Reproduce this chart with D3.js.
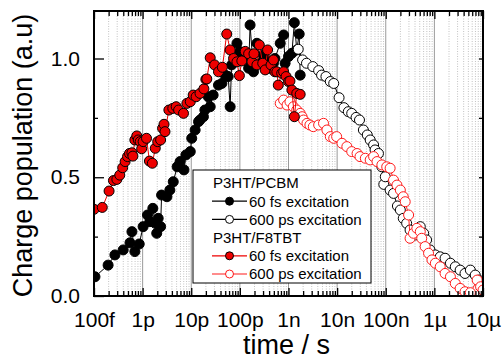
<!DOCTYPE html>
<html>
<head>
<meta charset="utf-8">
<script src="https://cdn.jsdelivr.net/npm/d3@7"></script>
<style>
  body { margin: 0; background: #fff; }
  svg { font-family: "Liberation Sans", Arial, sans-serif; }
</style>
</head>
<body>
<svg id="chart" width="503" height="360"></svg>
<script>
// x ticks (seconds) and their labels
const xTickValues = [1e-13, 1e-12, 1e-11, 1e-10, 1e-9, 1e-8, 1e-7, 1e-6, 1e-5]
const xTickLabels = ["100f", "1p", "10p", "100p", "1n", "10n", "100n", "1µ", "10µ"]
const yTickValues = [0, 0.5, 1.0]
const yMinorValues = [0.25, 0.75]

// time is stored as log10(t / s)
// P3HT/PCBM, 60 fs excitation
const pcbmFsLogT = [-12.98, -12.71, -12.57, -12.40, -12.26, -12.22, -12.16, -12.07, -11.99, -11.90,
  -11.85, -11.79, -11.74, -11.71, -11.68, -11.63, -11.61, -11.50, -11.44, -11.37,
  -11.29, -11.23, -11.15, -11.11, -11.02, -10.99, -10.92, -10.85, -10.82, -10.75,
  -10.72, -10.65, -10.61, -10.55, -10.44, -10.37, -10.30, -10.24, -10.20, -10.17,
  -10.10, -10.06, -10.00, -9.93, -9.82, -9.79, -9.72, -9.65, -9.58, -9.52,
  -9.45, -9.38, -9.31, -9.28, -9.17, -9.10, -9.07, -9.00, -8.93, -8.88,
  -8.83, -8.78, -8.76]
const pcbmFsY = [0.081, 0.130, 0.173, 0.194, 0.224, 0.271, 0.187, 0.219, 0.292, 0.341,
  0.313, 0.369, 0.306, 0.264, 0.327, 0.292, 0.425, 0.418, 0.446, 0.481,
  0.544, 0.566, 0.531, 0.594, 0.608, 0.664, 0.699, 0.734, 0.741, 0.755,
  0.783, 0.839, 0.797, 0.846, 0.888, 0.895, 0.930, 0.924, 0.797, 0.973,
  0.994, 1.064, 1.029, 1.008, 0.959, 1.141, 0.944, 1.064, 0.980, 1.015,
  0.994, 0.959, 0.980, 1.000, 1.064, 1.099, 0.980, 1.008, 1.022, 1.151,
  1.036, 1.103, 0.930]

// P3HT/PCBM, 600 ps excitation
const pcbmPsLogT = [-8.80, -8.71, -8.63, -8.50, -8.38, -8.32, -8.23, -8.14, -8.07, -7.96,
  -7.86, -7.77, -7.70, -7.61, -7.54, -7.46, -7.38, -7.32, -7.25, -7.22,
  -7.15, -7.08, -7.04, -7.01, -6.91, -6.84, -6.76, -6.70, -6.64, -6.57,
  -6.50, -6.39, -6.29, -6.22, -6.16, -6.09, -5.98, -5.88, -5.78, -5.67,
  -5.57, -5.47, -5.37, -5.26, -5.16, -5.09, -5.02]
const pcbmPsY = [1.039, 0.994, 0.980, 0.966, 0.949, 0.930, 0.924, 0.903, 0.895, 0.835,
  0.793, 0.776, 0.769, 0.752, 0.741, 0.699, 0.678, 0.657, 0.636, 0.615,
  0.600, 0.544, 0.470, 0.502, 0.446, 0.432, 0.379, 0.362, 0.327, 0.306,
  0.278, 0.257, 0.292, 0.264, 0.236, 0.194, 0.173, 0.165, 0.159, 0.138,
  0.123, 0.109, 0.095, 0.109, 0.088, 0.067, 0.039]

// P3HT/F8TBT, 60 fs excitation
const f8tbtFsLogT = [-13.00, -12.83, -12.69, -12.60, -12.53, -12.47, -12.41, -12.36, -12.31, -12.27,
  -12.22, -12.20, -12.16, -12.12, -12.09, -12.05, -12.02, -11.99, -11.92, -11.86,
  -11.80, -11.74, -11.69, -11.63, -11.59, -11.56, -11.54, -11.46, -11.38, -11.31,
  -11.26, -11.16, -11.09, -11.02, -10.96, -10.90, -10.82, -10.74, -10.70, -10.68,
  -10.61, -10.52, -10.44, -10.36, -10.27, -10.20, -10.13, -10.06, -10.01, -9.96,
  -9.89, -9.82, -9.75, -9.71, -9.65, -9.60, -9.53, -9.48, -9.43, -9.36,
  -9.31, -9.28, -9.24, -9.21, -9.14, -9.10, -9.05, -9.00, -8.97, -8.93,
  -8.88, -8.83, -8.76]
const f8tbtFsY = [0.365, 0.373, 0.442, 0.486, 0.491, 0.509, 0.540, 0.566, 0.587, 0.600,
  0.603, 0.589, 0.657, 0.674, 0.657, 0.650, 0.620, 0.650, 0.664, 0.568,
  0.559, 0.622, 0.650, 0.657, 0.706, 0.723, 0.692, 0.783, 0.790, 0.797,
  0.783, 0.769, 0.811, 0.818, 0.846, 0.839, 0.853, 0.872, 0.912, 0.914,
  1.003, 0.973, 0.944, 0.963, 1.103, 1.036, 1.000, 0.986, 0.928, 0.990,
  1.030, 1.020, 0.986, 1.020, 0.973, 1.057, 0.980, 0.952, 1.036, 0.973,
  0.994, 0.944, 0.944, 0.888, 0.938, 0.944, 0.924, 0.903, 0.905, 0.867,
  0.755, 0.853, 0.849]

// P3HT/F8TBT, 600 ps excitation
const f8tbtPsLogT = [-9.17, -9.10, -9.03, -8.97, -8.90, -8.83, -8.76, -8.72, -8.69, -8.62,
  -8.56, -8.49, -8.38, -8.28, -8.21, -8.14, -8.07, -8.01, -7.90, -7.80,
  -7.70, -7.59, -7.53, -7.42, -7.32, -7.25, -7.18, -7.08, -6.98, -6.91,
  -6.84, -6.77, -6.70, -6.64, -6.60, -6.53, -6.50, -6.43, -6.36, -6.29,
  -6.26, -6.19, -6.12, -6.05, -5.98, -5.88, -5.78, -5.67, -5.57, -5.47,
  -5.37, -5.26, -5.12, -5.05, -5.00]
const f8tbtPsY = [0.811, 0.825, 0.804, 0.818, 0.797, 0.783, 0.769, 0.755, 0.741, 0.727,
  0.720, 0.713, 0.720, 0.727, 0.699, 0.671, 0.664, 0.671, 0.643, 0.629,
  0.608, 0.600, 0.587, 0.580, 0.573, 0.587, 0.566, 0.552, 0.544, 0.538,
  0.488, 0.467, 0.446, 0.418, 0.397, 0.341, 0.243, 0.264, 0.285, 0.271,
  0.243, 0.208, 0.180, 0.152, 0.138, 0.123, 0.095, 0.081, 0.053, 0.032,
  0.018, 0.014, 0.067, 0.039, 0.025]

const margin = {top: 11, right: 20, bottom: 64, left: 94}
const width = 503 - margin.left - margin.right
const height = 360 - margin.top - margin.bottom

const svg = d3.select('#chart')
const g = svg.append('g')
  .attr('transform', 'translate(' + margin.left + ',' + margin.top + ')')

const x = d3.scaleLog().domain([1e-13, 1e-5]).range([0, width])
const y = d3.scaleLinear().domain([0, 1.2]).range([height, 0])

// minor decade values 2..9
const minorX = []
for (let e = -13; e < -5; e++) {
  for (let m = 2; m <= 9; m++) minorX.push(m * Math.pow(10, e))
}

// grid
g.append('g').selectAll('line').data(minorX).enter().append('line')
  .attr('x1', d => x(d)).attr('x2', d => x(d))
  .attr('y1', 0).attr('y2', height)
  .attr('stroke', '#b4b4b4').attr('stroke-width', 0.8)
  .attr('stroke-dasharray', '1,1.5')
g.append('g').selectAll('line').data(xTickValues.slice(1, -1)).enter().append('line')
  .attr('x1', d => x(d)).attr('x2', d => x(d))
  .attr('y1', 0).attr('y2', height)
  .attr('stroke', '#9a9a9a').attr('stroke-width', 1)

// data
g.append('clipPath').attr('id', 'plotClip')
  .append('rect').attr('width', width).attr('height', height)

const series = [
  {t: pcbmFsLogT, v: pcbmFsY, color: '#000', fill: '#000'},
  {t: pcbmPsLogT, v: pcbmPsY, color: '#000', fill: '#fff'},
  {t: f8tbtPsLogT, v: f8tbtPsY, color: '#ff1a1a', fill: '#fff'},
  {t: f8tbtFsLogT, v: f8tbtFsY, color: '#ee0000', fill: '#ee0000', edge: '#000'}
]

const line = d3.line().x(d => x(d[0])).y(d => y(d[1]))
const plot = g.append('g').attr('clip-path', 'url(#plotClip)')

series.forEach(s => {
  const pts = d3.zip(s.t.map(e => Math.pow(10, e)), s.v)
  plot.append('path')
    .datum(pts)
    .attr('d', line)
    .attr('fill', 'none')
    .attr('stroke', s.color)
    .attr('stroke-width', 1)
  plot.append('g').selectAll('circle').data(pts).enter().append('circle')
    .attr('cx', d => x(d[0]))
    .attr('cy', d => y(d[1]))
    .attr('r', 5)
    .attr('fill', s.fill)
    .attr('stroke', s.edge || s.color)
    .attr('stroke-width', 1)
})

// axes
const bottomAxis = g.append('g')
  .attr('transform', 'translate(0,' + height + ')')
  .call(d3.axisBottom(x).tickValues(xTickValues)
    .tickFormat((d, i) => xTickLabels[i]).tickSizeInner(-8).tickSizeOuter(0).tickPadding(16))
bottomAxis.append('g').call(d3.axisBottom(x).tickValues(minorX).tickFormat('').tickSizeInner(-5).tickSizeOuter(0))

const topAxis = g.append('g')
  .call(d3.axisTop(x).tickValues(xTickValues).tickFormat('').tickSizeInner(-8).tickSizeOuter(0))
topAxis.append('g').call(d3.axisTop(x).tickValues(minorX).tickFormat('').tickSizeInner(-5).tickSizeOuter(0))

const leftAxis = g.append('g')
  .call(d3.axisLeft(y).tickValues(yTickValues).tickFormat(d3.format('.1f'))
    .tickSizeInner(-10).tickSizeOuter(0).tickPadding(14))
leftAxis.append('g').call(d3.axisLeft(y).tickValues(yMinorValues).tickFormat('').tickSizeInner(-4).tickSizeOuter(0))

g.append('g')
  .attr('transform', 'translate(' + width + ',0)')
  .call(d3.axisRight(y).tickValues(yTickValues.concat(yMinorValues)).tickFormat('')
    .tickSizeInner(-4).tickSizeOuter(0))

g.selectAll('.domain').remove()
g.selectAll('.tick line').attr('stroke', '#000').attr('stroke-width', 1.3)
g.selectAll('.tick text').attr('font-size', 21).attr('fill', '#000')
  .attr('font-family', '"Liberation Sans", Arial, sans-serif')

g.append('rect')
  .attr('width', width).attr('height', height)
  .attr('fill', 'none').attr('stroke', '#000').attr('stroke-width', 2)

// titles
svg.append('text')
  .attr('x', margin.left + width / 2 - 2).attr('y', 354)
  .attr('text-anchor', 'middle').attr('font-size', 27)
  .text('time / s')
svg.append('text')
  .attr('transform', 'translate(32,' + (margin.top + height / 2 + 2) + ') rotate(-90)')
  .attr('text-anchor', 'middle').attr('font-size', 27)
  .text('Charge population (a.u)')

// legend
const legendRows = [
  {label: 'P3HT/PCBM'},
  {label: '60 fs excitation', color: '#000', fill: '#000'},
  {label: '600 ps excitation', color: '#000', fill: '#fff'},
  {label: 'P3HT/F8TBT'},
  {label: '60 fs excitation', color: '#ee0000', fill: '#ee0000', edge: '#000'},
  {label: '600 ps excitation', color: '#ff1a1a', fill: '#fff'}
]
const legend = svg.append('g').attr('transform', 'translate(193,170)')
legend.append('rect')
  .attr('width', 178).attr('height', 113)
  .attr('fill', '#fff').attr('stroke', '#000').attr('stroke-width', 1)

legendRows.forEach((r, i) => {
  const cy = 13 + i * 18.2
  if (r.color) {
    legend.append('line')
      .attr('x1', 19).attr('x2', 54).attr('y1', cy).attr('y2', cy)
      .attr('stroke', r.color).attr('stroke-width', 1.2)
    legend.append('circle')
      .attr('cx', 36.5).attr('cy', cy).attr('r', 4)
      .attr('fill', r.fill).attr('stroke', r.edge || r.color).attr('stroke-width', 1)
  }
  legend.append('text')
    .attr('x', r.color ? 56 : 20).attr('y', cy + 5.3)
    .attr('font-size', 15)
    .text(r.label)
})
</script>
</body>
</html>
